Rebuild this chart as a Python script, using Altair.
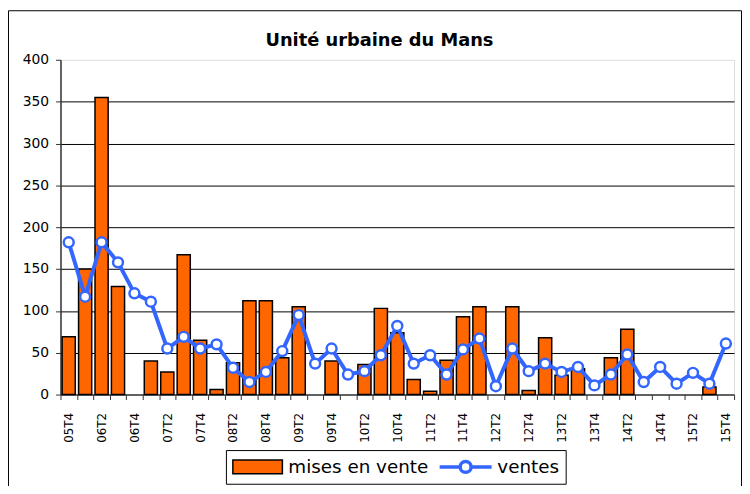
import altair as alt
import pandas as pd

quarters = ["05T4",
            "06T1", "06T2", "06T3", "06T4",
            "07T1", "07T2", "07T3", "07T4",
            "08T1", "08T2", "08T3", "08T4",
            "09T1", "09T2", "09T3", "09T4",
            "10T1", "10T2", "10T3", "10T4",
            "11T1", "11T2", "11T3", "11T4",
            "12T1", "12T2", "12T3", "12T4",
            "13T1", "13T2", "13T3", "13T4",
            "14T1", "14T2", "14T3", "14T4",
            "15T1", "15T2", "15T3", "15T4"]

mises_en_vente = [69, 150, 355, 129, None, 40, 27, 167, 65, 6, 38, 112, 112, 44, 105, None,
                  40, None, 36, 103, 74, 18, 4, 41, 93, 105, None, 105, 5, 68, 23, 31, None,
                  44, 78, None, None, None, None, 9, None]

ventes = [182, 117, 182, 158, 121, 111, 55, 69, 55, 60, 32, 15, 27, 52, 95, 37, 55, 24, 28,
          47, 82, 37, 47, 24, 54, 67, 10, 55, 28, 37, 27, 33, 11, 24, 48, 15, 33, 13, 26, 13, 61]

series = ["mises en vente", "ventes"]
y_ticks = [0, 50, 100, 150, 200, 250, 300, 350, 400]

rows = []
for q, v in zip(quarters, mises_en_vente):
    if v is not None:
        rows.append({"q": q, "v": v, "s": series[0]})
for q, v in zip(quarters, ventes):
    rows.append({"q": q, "v": v, "s": series[1]})
df = pd.DataFrame(rows)

FONT = "DejaVu Sans"
RECT_PATH = "M-1,-0.28H1V0.28H-1Z"
LINE_PATH = ("M-1.05,0H-0.22M0.22,0H1.05"
             "M0.22,0A0.22,0.22 0 1 1 -0.22,0A0.22,0.22 0 1 1 0.22,0Z")

leg = alt.Legend(orient="none", legendX=167, legendY=394, direction="horizontal",
                 title=None, symbolSize=2500, clipHeight=22, labelFont=FONT,
                 labelFontSize=18.5, labelColor="black", labelOffset=5,
                 columnPadding=10, padding=6, strokeColor="black",
                 symbolFillColor="white", symbolStrokeColor="black",
                 labelLimit=300)

x_enc = alt.X("q:N", sort=quarters,
              scale=alt.Scale(domain=quarters, paddingInner=0, paddingOuter=0),
              axis=alt.Axis(title=None, tickBand="extent", labelAngle=270,
                            labelAlign="right", labelBaseline="middle",
                            labelPadding=13, tickSize=5, tickColor="#333333",
                            domainColor="#333333", domainWidth=1.5, tickWidth=1,
                            labelFont=FONT, labelFontSize=12, labelColor="black",
                            labelOverlap=False,
                            labelExpr="(substring(datum.label, 2) == 'T1' || substring(datum.label, 2) == 'T3') ? '' : datum.label",
                            grid=False))
y_enc = alt.Y("v:Q", scale=alt.Scale(domain=[0, 400], nice=False),
              axis=alt.Axis(title=None, values=y_ticks, tickSize=5, labelPadding=7,
                            labelFont=FONT, labelFontSize=14, labelColor="black",
                            domainColor="#333333", domainWidth=1.5, tickColor="#333333",
                            grid=True, gridWidth=1,
                            gridColor={"condition": {"test": "datum.value >= 400 || datum.value <= 0",
                                                     "value": "transparent"},
                                       "value": "black"}))

fill_enc = alt.Fill("s:N", scale=alt.Scale(domain=series, range=["#FF6600", "white"]), legend=leg)
stroke_enc = alt.Stroke("s:N", scale=alt.Scale(domain=series, range=["black", "#3366FF"]), legend=leg)
sw_enc = alt.StrokeWidth("s:N", scale=alt.Scale(domain=series, range=[1.5, 3.5]), legend=leg)
shape_enc = alt.Shape("s:N", scale=alt.Scale(domain=series, range=[RECT_PATH, LINE_PATH]), legend=leg)

base = alt.Chart(df)

bars = base.transform_filter(alt.datum.s == series[0]).mark_bar(
    width=alt.RelativeBandSize(0.8)).encode(x=x_enc, y=y_enc, fill=fill_enc,
                                             stroke=stroke_enc, strokeWidth=sw_enc)

line = base.transform_filter(alt.datum.s == series[1]).mark_line(
    color="#3366FF", strokeWidth=4).encode(x=x_enc, y=y_enc)

points = base.transform_filter(alt.datum.s == series[1]).mark_point(
    filled=True, size=100, strokeWidth=2.5, opacity=1).encode(
    x=x_enc, y=y_enc, fill=fill_enc, stroke=stroke_enc)

legend_layer = base.transform_filter("false").mark_point(opacity=1).encode(
    x=x_enc, y=y_enc, fill=fill_enc, stroke=stroke_enc, strokeWidth=sw_enc, shape=shape_enc)

frame = alt.Chart(pd.DataFrame({"a": [0]})).mark_rect(
    fill="transparent", stroke="black", strokeWidth=1).encode(
    x=alt.value(-52.5), x2=alt.value(687.5), y=alt.value(-49.5), y2=alt.value(460))

chart = alt.layer(frame, bars, line, points, legend_layer).properties(
    width=680, height=338,
    title=alt.TitleParams("Unité urbaine du Mans", font=FONT, fontSize=18,
                          fontWeight="bold", color="black", anchor="middle",
                          baseline="alphabetic", dx=-18, offset=-54),
    autosize=alt.AutoSizeParams(type="none"),
    padding={"left": 53, "top": 50, "right": 8, "bottom": 90},
).configure_view(stroke="#888888", strokeWidth=2).configure(background="white")

chart.save("out.html", embed_options={"renderer": "svg", "actions": False})
